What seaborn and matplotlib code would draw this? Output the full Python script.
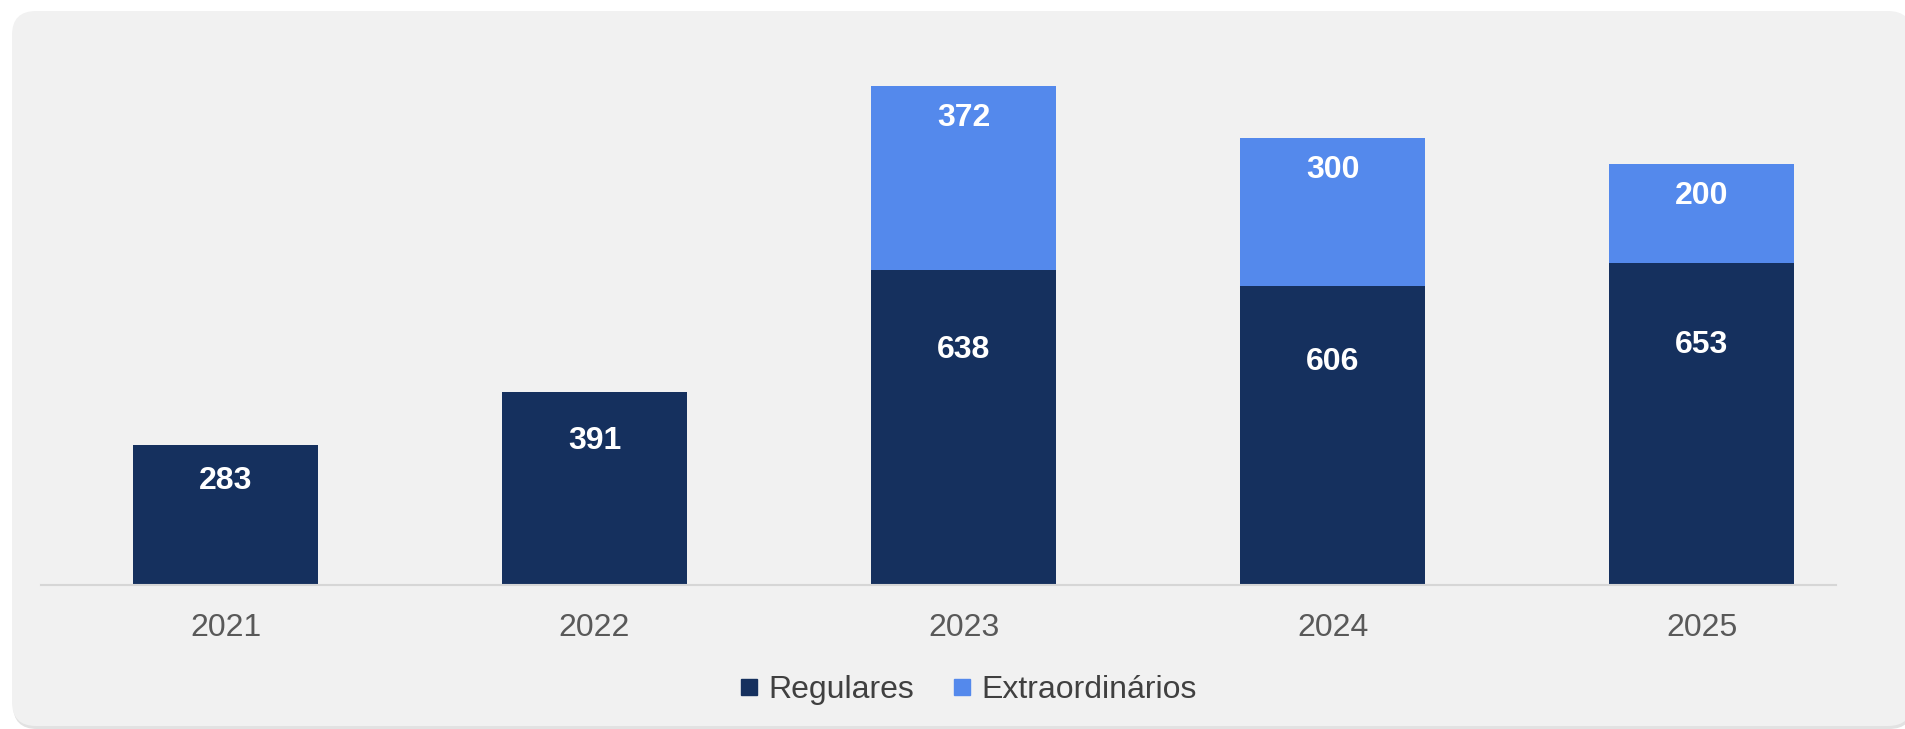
# -*- coding: utf-8 -*-
"""
Gráfico de barras empilhadas: Regulares x Extraordinários por ano
"""

import pandas as pd
import matplotlib
matplotlib.use("Agg")
import matplotlib.pyplot as plt
from matplotlib.lines import Line2D
from matplotlib.patches import FancyBboxPatch
import seaborn as sns

# dados
anos = ["2021", "2022", "2023", "2024", "2025"]
regulares = [283, 391, 638, 606, 653]
extraordinarios = [0, 0, 372, 300, 200]
series = ["Regulares", "Extraordinários"]

COR_REG = "#15305E"
COR_EXT = "#5489EC"
FUNDO = "#F1F1F1"

sns.set_style("white")
plt.rcParams["font.family"] = ["Liberation Sans", "DejaVu Sans"]

df = pd.DataFrame({"Ano": anos, "Regulares": regulares, "Extraordinários": extraordinarios})
df["Total"] = df["Regulares"] + df["Extraordinários"]

W, H = 1906, 729
fig = plt.figure(figsize=(W / 100, H / 100), dpi=100)
fig.patch.set_facecolor("white")

# painel cinza com cantos arredondados
sombra = FancyBboxPatch((0.13, 0.0), 19.0, 7.16, boxstyle="round,pad=0,rounding_size=0.24",
                        transform=fig.dpi_scale_trans, facecolor="#E2E2E2", edgecolor="none", zorder=-2)
painel = FancyBboxPatch((0.12, 0.03), 19.0, 7.15, boxstyle="round,pad=0,rounding_size=0.24",
                        transform=fig.dpi_scale_trans, facecolor=FUNDO, edgecolor="none", zorder=-1)
fig.patches.extend([sombra, painel])

ax = fig.add_axes([41 / W, (H - 585) / H, (1836 - 41) / W, 500 / H])
ax.set_zorder(1)
ax.set_facecolor("none")

# total (azul claro) e regulares (azul escuro) por cima
sns.barplot(data=df, x="Ano", y="Total", color=COR_EXT, width=0.5, saturation=1,
            errorbar=None, linewidth=0, ax=ax, zorder=2)
sns.barplot(data=df, x="Ano", y="Regulares", color=COR_REG, width=0.5, saturation=1,
            errorbar=None, linewidth=0, ax=ax, zorder=3)

ax.set_xlim(-0.5, 4.364)
ax.set_ylim(0, 1013)

for i, (r, e) in enumerate(zip(regulares, extraordinarios)):
    ax.text(i, r * 0.745, str(r), ha="center", va="center", color="white",
            fontsize=23, fontweight="bold", zorder=5)
    if e > 0:
        ax.annotate(str(e), xy=(i, r + e), xytext=(0, -23), textcoords="offset points",
                    ha="center", va="center", color="white",
                    fontsize=23, fontweight="bold", zorder=5)

ax.set_xlabel("")
ax.set_ylabel("")
ax.set_yticks([])
ax.tick_params(axis="x", length=0, pad=20, labelsize=23, labelcolor="#595959")
sns.despine(ax=ax, left=True)
ax.spines["bottom"].set_color("#D6D6D6")
ax.spines["bottom"].set_linewidth(1.5)
ax.spines["bottom"].set_zorder(4)

handles = [Line2D([], [], marker="s", linestyle="", markersize=11, color=c)
           for c in (COR_REG, COR_EXT)]
leg = fig.legend(handles, series, loc="center", bbox_to_anchor=(0.508, 1 - 690 / H), ncol=2,
                 frameon=False, fontsize=23, handlelength=0.6, handletextpad=0.3,
                 columnspacing=1.2, labelcolor="#404040")
leg.set_zorder(2)

fig.savefig("out.png", dpi=100)
